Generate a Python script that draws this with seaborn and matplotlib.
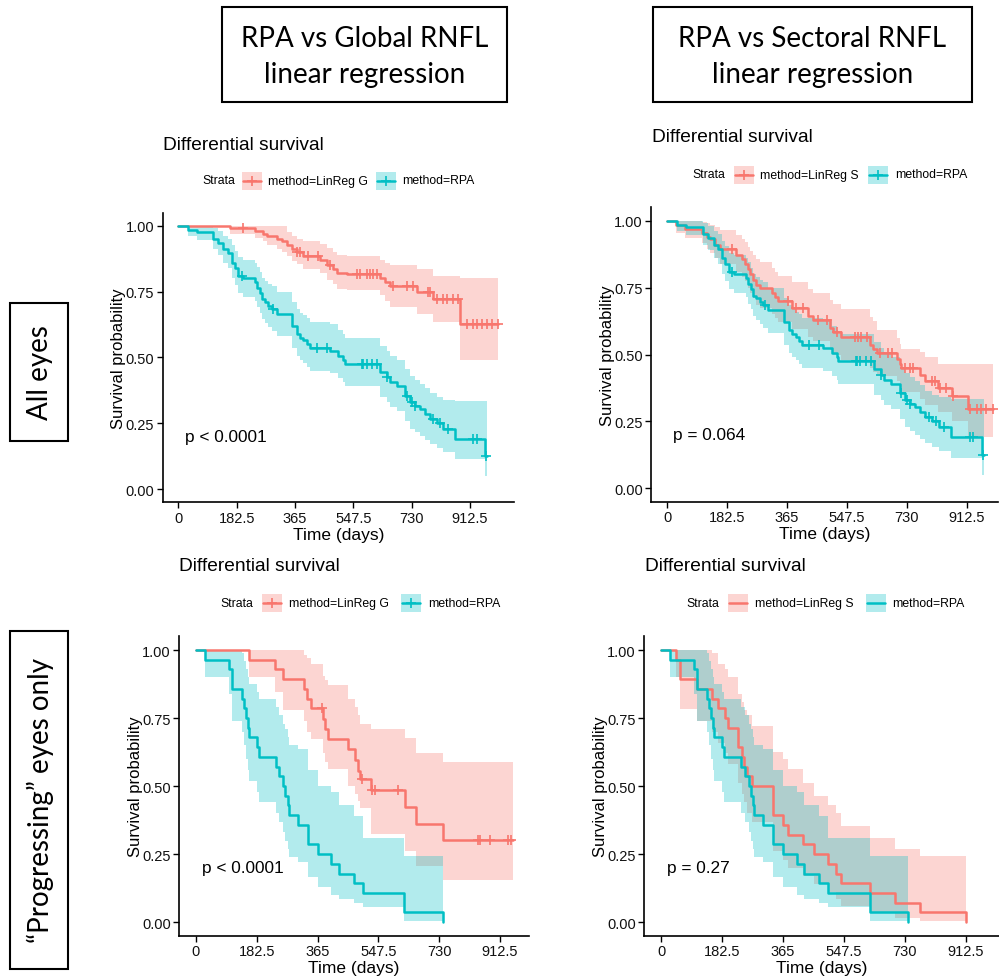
import numpy as np
import matplotlib
matplotlib.use("Agg")
import matplotlib.pyplot as plt
import seaborn as sns
from matplotlib.patches import Rectangle

# ---------------- data ----------------
header_line1 = ["RPA vs Global RNFL", "RPA vs Sectoral RNFL"]
header_line2 = ["linear regression", "linear regression"]
row_labels = ["All eyes", "\u201cProgressing\u201d eyes only"]
plot_title = "Differential survival"
legend_title = "Strata"
strata_labels = [["method=LinReg G", "method=RPA"], ["method=LinReg S", "method=RPA"],
                 ["method=LinReg G", "method=RPA"], ["method=LinReg S", "method=RPA"]]
p_values = ["p < 0.0001", "p = 0.064", "p < 0.0001", "p = 0.27"]
x_ticks = [0, 182.5, 365, 547.5, 730, 912.5]
x_tick_labels = ["0", "182.5", "365", "547.5", "730", "912.5"]
y_ticks = [0.0, 0.25, 0.5, 0.75, 1.0]
y_tick_labels = ["0.00", "0.25", "0.50", "0.75", "1.00"]

# RPA, all eyes
rpa_all_t = [0, 31, 57, 110, 125, 141, 156, 167, 177, 188, 203, 240, 245, 256, 261, 271, 282, 292, 308, 355,
             370, 381, 391, 402, 412, 475, 501, 516, 521, 631, 652, 662, 683, 709, 725, 740, 756, 772, 787, 808,
             829, 866, 960]
rpa_all_s = [1.0, 0.985, 0.975, 0.95, 0.935, 0.91, 0.895, 0.86, 0.84, 0.81, 0.80, 0.785, 0.765, 0.745, 0.72,
             0.71, 0.695, 0.685, 0.665, 0.62, 0.59, 0.575, 0.565, 0.55, 0.535, 0.525, 0.505, 0.49, 0.475, 0.445,
             0.425, 0.405, 0.39, 0.355, 0.33, 0.315, 0.305, 0.285, 0.265, 0.25, 0.23, 0.19, 0.125]
rpa_all_lo = [1.0, 0.96, 0.945, 0.91, 0.89, 0.86, 0.84, 0.80, 0.775, 0.745, 0.73, 0.715, 0.69, 0.67, 0.645,
              0.63, 0.615, 0.60, 0.58, 0.535, 0.505, 0.49, 0.48, 0.465, 0.45, 0.44, 0.42, 0.405, 0.39, 0.35,
              0.33, 0.31, 0.295, 0.26, 0.23, 0.215, 0.20, 0.185, 0.17, 0.155, 0.14, 0.114, 0.05]
rpa_all_hi = [1.0, 1.0, 1.0, 0.99, 0.98, 0.96, 0.95, 0.925, 0.905, 0.88, 0.87, 0.86, 0.845, 0.825, 0.80,
              0.79, 0.78, 0.77, 0.75, 0.71, 0.685, 0.67, 0.66, 0.65, 0.635, 0.625, 0.605, 0.59, 0.575, 0.545,
              0.525, 0.505, 0.49, 0.455, 0.43, 0.415, 0.40, 0.385, 0.365, 0.35, 0.34, 0.335, 0.335]
rpa_all_end = 965
rpa_all_cens = [198, 297, 433, 464, 574, 579, 589, 605, 620, 652, 714, 730, 740, 798, 819, 845, 923, 933, 962]

# LinReg G, all eyes
lrg_all_t = [0, 162, 240, 266, 276, 308, 323, 339, 355, 370, 391, 443, 464, 485, 495, 527, 631, 647, 662, 746,
             798, 881]
lrg_all_s = [1.0, 0.99, 0.98, 0.97, 0.96, 0.95, 0.94, 0.925, 0.91, 0.90, 0.885, 0.87, 0.85, 0.835, 0.82, 0.815,
             0.80, 0.785, 0.77, 0.75, 0.72, 0.625]
lrg_all_lo = [1.0, 0.97, 0.955, 0.94, 0.925, 0.91, 0.90, 0.885, 0.865, 0.855, 0.835, 0.82, 0.795, 0.78, 0.76,
              0.755, 0.735, 0.715, 0.69, 0.665, 0.635, 0.49]
lrg_all_hi = [1.0, 1.0, 1.0, 1.0, 1.0, 1.0, 1.0, 0.975, 0.96, 0.95, 0.94, 0.93, 0.915, 0.90, 0.89, 0.885,
              0.87, 0.86, 0.85, 0.835, 0.81, 0.80]
lrg_all_end = 1001
lrg_all_cens = [201, 370, 381, 407, 438, 475, 558, 568, 589, 599, 610, 620, 673, 714, 735, 782, 787, 808, 829,
                840, 860, 876, 902, 923, 933, 949, 965, 980, 1001]

# LinReg S, all eyes
lrs_all_t = [0, 28, 54, 105, 120, 130, 145, 161, 211, 227, 237, 247, 252, 262, 272, 282, 318, 328, 338, 379,
             430, 445, 496, 506, 531, 618, 628, 638, 699, 709, 714, 770, 785, 826, 867, 917]
lrs_all_s = [1.0, 0.985, 0.97, 0.955, 0.94, 0.93, 0.91, 0.895, 0.87, 0.855, 0.84, 0.82, 0.80, 0.78, 0.76,
             0.75, 0.73, 0.715, 0.70, 0.675, 0.645, 0.63, 0.60, 0.585, 0.565, 0.535, 0.52, 0.505, 0.485, 0.465,
             0.45, 0.425, 0.40, 0.375, 0.345, 0.295]
lrs_all_lo = [1.0, 0.955, 0.935, 0.915, 0.895, 0.88, 0.86, 0.84, 0.81, 0.79, 0.775, 0.75, 0.73, 0.71, 0.685,
              0.675, 0.65, 0.635, 0.62, 0.595, 0.565, 0.55, 0.515, 0.50, 0.48, 0.45, 0.435, 0.42, 0.40, 0.38,
              0.36, 0.335, 0.31, 0.285, 0.25, 0.19]
lrs_all_hi = [1.0, 1.0, 1.0, 0.995, 0.99, 0.985, 0.975, 0.965, 0.945, 0.93, 0.92, 0.90, 0.885, 0.87, 0.855,
              0.845, 0.825, 0.81, 0.795, 0.77, 0.745, 0.73, 0.705, 0.69, 0.67, 0.64, 0.625, 0.59, 0.56, 0.54,
              0.52, 0.51, 0.49, 0.465, 0.465, 0.465]
lrs_all_end = 994
lrs_all_cens = [196, 369, 394, 415, 460, 486, 516, 572, 582, 592, 608, 648, 674, 684, 724, 740, 750, 806, 816,
                831, 851, 872, 922, 943, 958, 973, 994]

# RPA, progressing eyes
rpa_prog_t = [0, 27, 98, 108, 137, 143, 151, 156, 160, 182, 189, 239, 250, 262, 268, 275, 279, 305, 335, 365,
              406, 428, 474, 500, 624, 740]
rpa_prog_s = [1.0, 0.964, 0.929, 0.857, 0.821, 0.786, 0.75, 0.714, 0.679, 0.643, 0.607, 0.571, 0.536, 0.50,
              0.464, 0.429, 0.393, 0.357, 0.286, 0.25, 0.214, 0.179, 0.143, 0.107, 0.036, 0.0]
rpa_prog_lo = [1.0, 0.90, 0.84, 0.74, 0.70, 0.65, 0.60, 0.56, 0.52, 0.48, 0.44, 0.40, 0.37, 0.33, 0.30, 0.27,
               0.24, 0.22, 0.165, 0.13, 0.10, 0.086, 0.07, 0.055, 0.006, 0.0]
rpa_prog_hi = [1.0, 1.0, 1.0, 1.0, 0.99, 0.96, 0.93, 0.90, 0.875, 0.845, 0.82, 0.79, 0.76, 0.73, 0.71, 0.68,
               0.65, 0.636, 0.56, 0.50, 0.477, 0.43, 0.39, 0.31, 0.245, 0.0]
rpa_prog_end = 740
rpa_prog_cens = []

# LinReg G, progressing eyes
lrg_prog_t = [0, 159, 237, 260, 324, 334, 344, 380, 387, 397, 457, 477, 487, 492, 524, 627, 660, 740]
lrg_prog_s = [1.0, 0.964, 0.929, 0.893, 0.857, 0.821, 0.786, 0.746, 0.71, 0.673, 0.635, 0.595, 0.557, 0.526,
              0.486, 0.422, 0.361, 0.302]
lrg_prog_lo = [1.0, 0.90, 0.845, 0.78, 0.74, 0.70, 0.673, 0.62, 0.59, 0.563, 0.50, 0.47, 0.447, 0.42, 0.324,
               0.26, 0.208, 0.157]
lrg_prog_hi = [1.0, 1.0, 1.0, 1.0, 0.98, 0.97, 0.95, 0.905, 0.89, 0.873, 0.82, 0.79, 0.76, 0.73, 0.71, 0.676,
               0.62, 0.587]
lrg_prog_end = 952
lrg_prog_cens = [377, 499, 527, 537, 607, 847, 854, 882, 937, 947]

# LinReg S, progressing eyes
lrs_prog_t = [0, 45, 57, 107, 152, 171, 191, 201, 231, 241, 248, 256, 271, 334, 366, 381, 426, 458, 500, 525,
              540, 625, 700, 775, 914]
lrs_prog_s = [1.0, 0.964, 0.893, 0.857, 0.821, 0.786, 0.75, 0.714, 0.643, 0.607, 0.571, 0.536, 0.50, 0.393,
              0.357, 0.321, 0.286, 0.25, 0.214, 0.179, 0.143, 0.107, 0.071, 0.036, 0.0]
lrs_prog_lo = [1.0, 0.90, 0.785, 0.74, 0.70, 0.66, 0.62, 0.58, 0.51, 0.47, 0.44, 0.40, 0.37, 0.26, 0.23, 0.20,
               0.17, 0.14, 0.11, 0.085, 0.06, 0.035, 0.015, 0.005, 0.0]
lrs_prog_hi = [1.0, 1.0, 1.0, 1.0, 0.99, 0.95, 0.93, 0.90, 0.84, 0.81, 0.78, 0.76, 0.72, 0.624, 0.60, 0.563,
               0.51, 0.465, 0.43, 0.40, 0.355, 0.31, 0.27, 0.245, 0.0]
lrs_prog_end = 914
lrs_prog_cens = []

# ---------------- style ----------------
sns.set_theme(style="white")
plt.rcParams["font.family"] = ["Liberation Sans", "DejaVu Sans"]
RED = "#F8766D"
TEAL = "#00BFC4"
W, H = 999, 979

fig = plt.figure(figsize=(W / 100, H / 100), dpi=100)

# full-figure overlay in pixel coordinates for boxes, titles, legends
ov = fig.add_axes([0, 0, 1, 1])
ov.set_xlim(0, W)
ov.set_ylim(H, 0)
ov.axis("off")
ov.patch.set_visible(False)

HEAD_FONT = ["Lato", "DejaVu Sans"]

# header boxes
for (l, t, r, b), l1, l2 in zip([(221.7, 8.3, 506.7, 103.0), (652.7, 8.3, 971.7, 102.7)],
                                header_line1, header_line2):
    ov.add_patch(Rectangle((l, t), r - l, b - t, fill=False, edgecolor="black", linewidth=1.5))
    cx = (l + r) / 2
    ov.text(cx, 47, l1, ha="center", va="baseline", fontsize=20, family=HEAD_FONT, color="black")
    ov.text(cx, 83.5, l2, ha="center", va="baseline", fontsize=20, family=HEAD_FONT, color="black")

# row label boxes
for (l, t, r, b), lab in zip([(10, 304, 68, 442), (10, 632, 68, 970)], row_labels):
    ov.add_patch(Rectangle((l, t), r - l, b - t, fill=False, edgecolor="black", linewidth=1.5))
    ov.text((l + r) / 2 + 1, (t + b) / 2, lab, ha="center", va="center", rotation=90,
            fontsize=20, family=HEAD_FONT, color="black")


def px_box(l, t, r, b):
    return [l / W, 1 - b / H, (r - l) / W, (b - t) / H]


def draw_legend(title_x, title_y, legend_y, strata_x, boxes, labels, censored):
    ov.text(title_x, title_y, plot_title, ha="left", va="center", fontsize=13.8, color="black")
    ov.text(strata_x, legend_y, legend_title, ha="left", va="center", fontsize=8.8, color="black")
    for (bx, tx), lab, col in zip(boxes, labels, [RED, TEAL]):
        ov.add_patch(Rectangle((bx, legend_y - 9), 20, 18, facecolor=col, alpha=0.3, linewidth=0))
        ov.plot([bx + 1, bx + 19], [legend_y, legend_y], color=col, linewidth=1.8)
        if censored:
            ov.plot([bx + 10], [legend_y], marker="+", color=col, markersize=7, markeredgewidth=1.2)
        ov.text(tx, legend_y, lab, ha="left", va="center", fontsize=8.8, color="black")


def draw_panel(ax, curves, xlim, pval, pval_x):
    for t, s, lo, hi, end, cens, col in curves:
        tt = np.append(np.asarray(t, float), end)
        ax.fill_between(tt, np.append(lo, lo[-1]), np.append(hi, hi[-1]), step="post",
                        color=col, alpha=0.3, linewidth=0)
    for t, s, lo, hi, end, cens, col in curves:
        tt = np.append(np.asarray(t, float), end)
        ss = np.append(np.asarray(s, float), s[-1])
        sns.lineplot(x=tt, y=ss, drawstyle="steps-post", color=col, linewidth=1.8,
                     estimator=None, sort=False, ax=ax)
        if len(cens):
            idx = np.searchsorted(t, cens, side="right") - 1
            cy = np.asarray(s)[idx]
            sns.scatterplot(x=cens, y=cy, marker="+", s=45, color=col, linewidth=1.2, ax=ax, zorder=5)
    ax.set_xlim(*xlim)
    ax.set_ylim(-0.05, 1.05)
    ax.set_xticks(x_ticks)
    ax.set_xticklabels(x_tick_labels)
    ax.set_yticks(y_ticks)
    ax.set_yticklabels(y_tick_labels)
    sns.despine(ax=ax)
    for sp in ["left", "bottom"]:
        ax.spines[sp].set_color("black")
        ax.spines[sp].set_linewidth(1.2)
    ax.tick_params(axis="both", direction="out", length=4, width=1.0, color="black",
                   labelsize=10.5, pad=2.0, labelcolor="#111111", bottom=True, left=True)
    ax.set_xlabel("Time (days)", fontsize=12.5, color="black")
    ax.set_ylabel("Survival probability", fontsize=12, color="black")
    ax.text(pval_x, 0.2, pval, ha="left", va="center", fontsize=12.4, color="black")
    ax.grid(False)


panels = [
    dict(box=(162.5, 213.5, 514.0, 503.3), xlim=(-49.4, 1050),
         curves=[(lrg_all_t, lrg_all_s, lrg_all_lo, lrg_all_hi, lrg_all_end, lrg_all_cens, RED),
                 (rpa_all_t, rpa_all_s, rpa_all_lo, rpa_all_hi, rpa_all_end, rpa_all_cens, TEAL)],
         legend=dict(title_x=163, title_y=145, legend_y=181.5, strata_x=202.5,
                     boxes=[(241.7, 268), (375.5, 402)], censored=True), pval_x=20),
    dict(box=(651.0, 208.3, 998.5, 502.7), xlim=(-49.7, 1010),
         curves=[(lrs_all_t, lrs_all_s, lrs_all_lo, lrs_all_hi, lrs_all_end, lrs_all_cens, RED),
                 (rpa_all_t, rpa_all_s, rpa_all_lo, rpa_all_hi, rpa_all_end, rpa_all_cens, TEAL)],
         legend=dict(title_x=651.5, title_y=138, legend_y=175.5, strata_x=692,
                     boxes=[(733.5, 760), (867.5, 895)], censored=True), pval_x=18),
    dict(box=(179.0, 637.4, 529.0, 936.9), xlim=(-51, 999.6),
         curves=[(lrg_prog_t, lrg_prog_s, lrg_prog_lo, lrg_prog_hi, lrg_prog_end, lrg_prog_cens, RED),
                 (rpa_prog_t, rpa_prog_s, rpa_prog_lo, rpa_prog_hi, rpa_prog_end, rpa_prog_cens, TEAL)],
         legend=dict(title_x=179.3, title_y=566.7, legend_y=604, strata_x=220.7,
                     boxes=[(262, 289), (400.7, 427.7)], censored=True), pval_x=17),
    dict(box=(644.3, 637.4, 998.5, 936.9), xlim=(-50, 1010),
         curves=[(lrs_prog_t, lrs_prog_s, lrs_prog_lo, lrs_prog_hi, lrs_prog_end, lrs_prog_cens, RED),
                 (rpa_prog_t, rpa_prog_s, rpa_prog_lo, rpa_prog_hi, rpa_prog_end, rpa_prog_cens, TEAL)],
         legend=dict(title_x=645, title_y=566.7, legend_y=604, strata_x=686.7,
                     boxes=[(728, 755), (866, 892)], censored=False), pval_x=17),
]

for i, p in enumerate(panels):
    l, t, r, b = p["box"]
    ax = fig.add_axes(px_box(l, t, r, b))
    ax.patch.set_visible(False)
    draw_panel(ax, p["curves"], p["xlim"], p_values[i], p["pval_x"])
    ax.yaxis.set_label_coords(-36.0 / (r - l), 0.5)
    ax.xaxis.set_label_coords(0.5, -24.5 / (b - t))
    lg = p["legend"]
    draw_legend(lg["title_x"], lg["title_y"], lg["legend_y"], lg["strata_x"], lg["boxes"],
                strata_labels[i], lg["censored"])

fig.savefig("out.png", dpi=100, facecolor="white")
